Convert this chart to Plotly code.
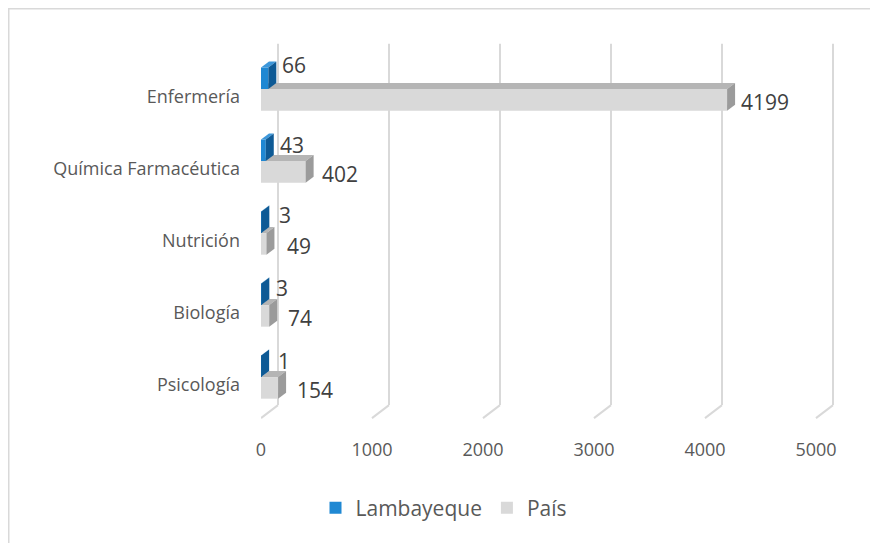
import plotly.graph_objects as go

# ---------------- data ----------------
categories = ["Enfermería", "Química Farmacéutica", "Nutrición", "Biología", "Psicología"]
lambayeque = [66, 43, 3, 3, 1]
pais = [4199, 402, 49, 74, 154]
x_ticks = [0, 1000, 2000, 3000, 4000, 5000]
series_names = ["Lambayeque", "País"]

# ---------------- layout constants (figure pixel coords) ----------------
W, H = 870, 535
ML, MR, MT, MB = 253, 38, 32, 118
plot_w = W - ML - MR
plot_h = H - MT - MB
PX_PER_UNIT = 0.111            # pixels per x unit
X_MAX = plot_w / PX_PER_UNIT
ROW_PX = 72.0                  # pixels per category row
FIRST_ROW_PX = 89.0            # pixel y of first category label
y_at_top = (MT - FIRST_ROW_PX) / ROW_PX
y_at_bottom = (H - MB - FIRST_ROW_PX) / ROW_PX

FRONT_TOP = -0.56
FRONT_BOTTOM = 4.46

# 3D depths
BAR_DX = 8 / PX_PER_UNIT
BAR_DY = -6 / ROW_PX
GRID_DX = 17 / PX_PER_UNIT
GRID_DY = -13 / ROW_PX

BAR_W = 0.30
OFF_L = -0.41
OFF_P = -0.11

# label nudges (pixels)
LAMB_LABEL_DX = [0, 0, 4, 1, 3]
LAMB_LABEL_DY = [13, 5, 7, 6, 5]
PAIS_LABEL_DX = [0, 2, 7, 5, 5]
PAIS_LABEL_DY = [-2, -2, -2, -2, -2]

FONT = "Open Sans"
BLUE = dict(front="#1F88D3", side="#0E5A95", top="#3D97DA")
GRAY = dict(front="#D9D9D9", side="#9B9B9B", top="#B5B5B5")
GRID_COLOR = "#D9D9D9"

ypos = list(range(len(categories)))

fig = go.Figure()
fig.add_trace(go.Bar(
    y=ypos, x=lambayeque, orientation="h", name=series_names[0],
    offset=OFF_L, width=BAR_W, marker=dict(color=BLUE["front"], line=dict(width=0)),
    hoverinfo="x+name"))
fig.add_trace(go.Bar(
    y=ypos, x=pais, orientation="h", name=series_names[1],
    offset=OFF_P, width=BAR_W, marker=dict(color=GRAY["front"], line=dict(width=0)),
    hoverinfo="x+name"))

shapes = []
# back-wall gridlines and floor diagonals
for t in x_ticks:
    shapes.append(dict(type="line", xref="x", yref="y", layer="below",
                       x0=t + GRID_DX, x1=t + GRID_DX,
                       y0=FRONT_BOTTOM + GRID_DY, y1=FRONT_TOP + GRID_DY,
                       line=dict(color=GRID_COLOR, width=2)))
    shapes.append(dict(type="line", xref="x", yref="y", layer="below",
                       x0=t, x1=t + GRID_DX,
                       y0=FRONT_BOTTOM, y1=FRONT_BOTTOM + GRID_DY,
                       line=dict(color=GRID_COLOR, width=2)))


def faces(values, offset, colors, top_layer):
    out = []
    for i, v in enumerate(values):
        y0 = i + offset
        y1 = y0 + BAR_W
        side = (f"M {v},{y0} L {v},{y1} L {v + BAR_DX},{y1 + BAR_DY} "
                f"L {v + BAR_DX},{y0 + BAR_DY} Z")
        top = (f"M 0,{y0} L {v},{y0} L {v + BAR_DX},{y0 + BAR_DY} "
               f"L {BAR_DX},{y0 + BAR_DY} Z")
        out.append(dict(type="path", xref="x", yref="y", layer=top_layer, path=top,
                        fillcolor=colors["top"], line=dict(width=0)))
        out.append(dict(type="path", xref="x", yref="y", layer="above", path=side,
                        fillcolor=colors["side"], line=dict(width=0)))
    return out


shapes += faces(pais, OFF_P, GRAY, "below")
shapes += faces(lambayeque, OFF_L, BLUE, "above")

# outer chart border (cropped on right and bottom like the reference)
shapes.append(dict(type="rect", xref="paper", yref="paper",
                   x0=(0.75 - ML) / plot_w, x1=(W + 10 - ML) / plot_w,
                   y0=(H - MB - 0.75) / plot_h, y1=(H - MB - (H + 10)) / plot_h,
                   line=dict(color="#D9D9D9", width=1.5), fillcolor="rgba(0,0,0,0)"))

annotations = []
label_font = dict(family=FONT, size=21, color="#404040")
for i, v in enumerate(lambayeque):
    annotations.append(dict(x=v, y=i + OFF_L + BAR_W / 2, xref="x", yref="y",
                            text=str(v), showarrow=False, xanchor="left",
                            yanchor="middle", xshift=12 + LAMB_LABEL_DX[i],
                            yshift=LAMB_LABEL_DY[i], font=label_font))
for i, v in enumerate(pais):
    annotations.append(dict(x=v, y=i + OFF_P + BAR_W / 2, xref="x", yref="y",
                            text=str(v), showarrow=False, xanchor="left",
                            yanchor="middle", xshift=12 + PAIS_LABEL_DX[i],
                            yshift=PAIS_LABEL_DY[i], font=label_font))

fig.update_layout(
    width=W, height=H,
    margin=dict(l=ML, r=MR, t=MT, b=MB, pad=0),
    paper_bgcolor="white", plot_bgcolor="white",
    barmode="overlay",
    font=dict(family=FONT, color="#595959"),
    shapes=shapes, annotations=annotations,
    showlegend=True,
    legend=dict(orientation="h", x=(436 - ML) / plot_w, y=(H - MB - 500) / plot_h,
                xanchor="center", yanchor="middle",
                font=dict(family=FONT, size=21, color="#595959"),
                itemwidth=30, traceorder="normal"),
    xaxis=dict(range=[0, X_MAX], tickvals=x_ticks, ticktext=[str(t) for t in x_ticks],
               showgrid=False, zeroline=False, showline=False, ticks="",
               tickfont=dict(family=FONT, size=18, color="#595959"),
               ticklabelstandoff=12),
    yaxis=dict(range=[y_at_bottom, y_at_top], tickvals=ypos, ticktext=categories,
               showgrid=False, zeroline=False, showline=False, ticks="",
               tickfont=dict(family=FONT, size=18, color="#595959"),
               ticklabelstandoff=20),
)

fig.write_html("out.html")
